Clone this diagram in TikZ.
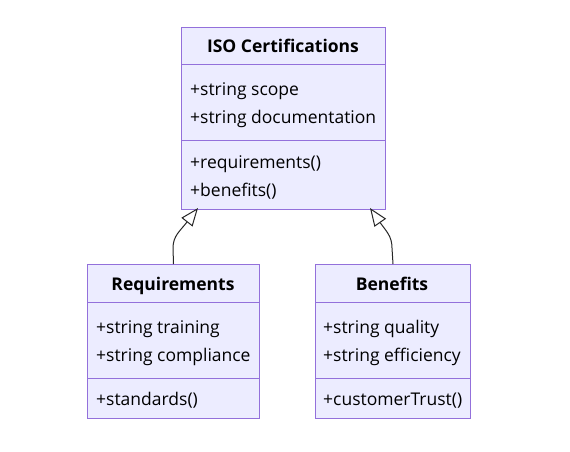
\documentclass[tikz,border=0pt]{standalone}
\usepackage{fontspec}
\setmainfont{Open Sans}
\usetikzlibrary{arrows.meta}
\definecolor{umlfill}{HTML}{ECECFF}
\definecolor{umlline}{HTML}{9370DB}

\begin{document}
\begin{tikzpicture}[x=1pt,y=-1pt]
				\tikzstyle{every node}=[font=\fontsize{17.5}{20}\selectfont]
				\tikzstyle{cls}=[draw=umlline,fill=umlfill,line width=1pt,inner sep=0pt,anchor=north west]
				\tikzstyle{rule}=[draw=umlline,line width=1pt]
				\tikzstyle{title}=[font=\fontsize{17.5}{20}\selectfont\bfseries,inner sep=0pt,text height=12pt,text depth=4pt]
				\tikzstyle{member}=[anchor=west,inner sep=0pt,text height=12pt,text depth=4pt]
				\tikzstyle{inherit}=[draw=black!85,line width=1pt,-{Triangle[open,fill=white,length=18pt,width=14pt]}]
				\useasboundingbox[fill=white] (0,0) rectangle (570,451);
				% ISO Certifications
				\node[cls,minimum width=204pt,minimum height=182pt] (iso) at (181,27) {};
				\draw[rule] (181,64) -- (385,64);
				\draw[rule] (181,140) -- (385,140);
				\node[title] (isoT) at (283,48) {ISO Certifications};
				\node[member] (isoA1) at (190,91) {+string scope};
				\node[member] (isoA2) at (190,119) {+string documentation};
				\node[member] (isoM1) at (190,164) {+requirements()};
				\node[member] (isoM2) at (190,192) {+benefits()};
				% Requirements
				\node[cls,minimum width=172pt,minimum height=154pt] (req) at (87,264) {};
				\draw[rule] (87,302) -- (259,302);
				\draw[rule] (87,378) -- (259,378);
				\node[title] (reqT) at (173,286) {Requirements};
				\node[member] (reqA1) at (96,329) {+string training};
				\node[member] (reqA2) at (96,357) {+string compliance};
				\node[member] (reqM1) at (96,401) {+standards()};
				% Benefits
				\node[cls,minimum width=155pt,minimum height=154pt] (ben) at (315,264) {};
				\draw[rule] (315,302) -- (470,302);
				\draw[rule] (315,378) -- (470,378);
				\node[title] (benT) at (392,286) {Benefits};
				\node[member] (benA1) at (323,329) {+string quality};
				\node[member] (benA2) at (323,357) {+string efficiency};
				\node[member] (benM1) at (323,401) {+customerTrust()};
				% inheritance
				\draw[inherit] (req.north) -- (173,248) .. controls (173,236) and (180,231) .. ([xshift=17pt,yshift=2pt]iso.south west);
				\draw[inherit] (ben.north) -- (392,248) .. controls (392,236) and (386,231) .. ([xshift=-16pt,yshift=2pt]iso.south east);
\end{tikzpicture}
\end{document}
